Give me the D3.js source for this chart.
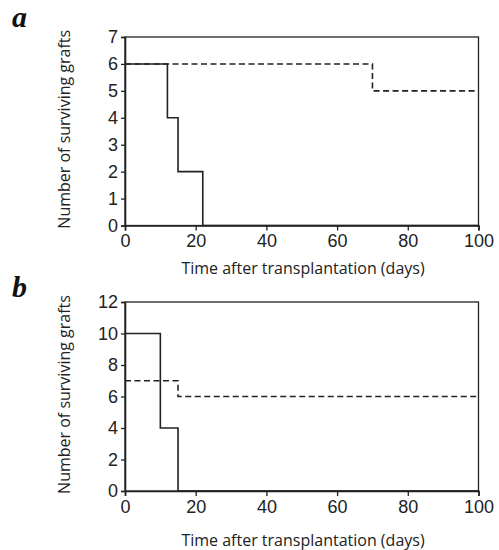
<!DOCTYPE html>
<html><head><meta charset="utf-8">
<script src="https://cdn.jsdelivr.net/npm/d3@7"></script>
<style>body{margin:0;background:#fff}</style>
</head><body>
<script>
// Panel a data (step functions: [day, grafts])
const aSolid = [[0,6],[12,4],[15,2],[22,0],[100,0]];
const aDashed = [[0,6],[70,5],[100,5]];
const aYTicks = [0,1,2,3,4,5,6,7];
// Panel b data
const bSolid = [[0,10],[10,4],[15,0],[100,0]];
const bDashed = [[0,7],[15,6],[100,6]];
const bYTicks = [0,2,4,6,8,10,12];
const xTicks = [0,20,40,60,80,100];
const yTitle = "Number of surviving grafts";
const xTitle = "Time after transplantation (days)";

const svg = d3.select("body").append("svg").attr("width",499).attr("height",550);

function panel(cfg){
  const x = d3.scaleLinear().domain([0,100]).range([125,478.5]);
  const y = d3.scaleLinear().domain([0,cfg.ymax]).range([cfg.bottom,cfg.top]);
  const g = svg.append("g");
  g.append("rect").attr("x",x(0)).attr("y",y(cfg.ymax)).attr("width",x(100)-x(0)).attr("height",y(0)-y(cfg.ymax))
    .attr("fill","none").attr("stroke","#222").attr("stroke-width",1.3);
  const xa = g.append("g").attr("transform",`translate(0,${y(0)})`)
    .call(d3.axisBottom(x).tickValues(xTicks).tickSize(5).tickPadding(4).tickFormat(d3.format("d")));
  const ya = g.append("g").attr("transform",`translate(${x(0)},0)`)
    .call(d3.axisLeft(y).tickValues(cfg.yticks).tickSize(4).tickPadding(3).tickFormat(d3.format("d")));
  [xa,ya].forEach(a=>{
    a.select(".domain").attr("stroke","#222").attr("stroke-width",1.6);
    a.selectAll(".tick line").attr("stroke","#222").attr("stroke-width",1.3);
    a.selectAll("text").attr("font-family","Liberation Sans, Arial, sans-serif").attr("font-size",18).attr("fill","#222");
  });
  const line = d3.line().x(d=>x(d[0])).y(d=>y(d[1])).curve(d3.curveStepAfter);
  g.append("path").datum(cfg.solid).attr("d",line).attr("fill","none").attr("stroke","#222").attr("stroke-width",1.6);
  g.append("path").datum(cfg.dashed).attr("d",line).attr("fill","none").attr("stroke","#222").attr("stroke-width",1.6)
    .attr("stroke-dasharray","6,3.5");
  g.append("text").attr("x",303).attr("y",cfg.xtitleY).attr("text-anchor","middle")
    .attr("font-family","Open Sans, sans-serif").attr("font-size",16).attr("fill","#222").text(xTitle);
  g.append("text").attr("transform",`translate(70,${(cfg.top+cfg.bottom)/2-2}) rotate(-90)`).attr("text-anchor","middle")
    .attr("font-family","Open Sans, sans-serif").attr("font-size",16).attr("fill","#222").text(yTitle);
  g.append("text").attr("x",12).attr("y",cfg.labelY).attr("font-family","Liberation Serif, serif")
    .attr("font-weight","bold").attr("font-style","italic").attr("font-size",30).attr("fill","#111").text(cfg.label);
}

panel({ymax:7, top:37, bottom:225.5, yticks:aYTicks, solid:aSolid, dashed:aDashed, xtitleY:274, labelY:27, label:"a"});
panel({ymax:12, top:302, bottom:491, yticks:bYTicks, solid:bSolid, dashed:bDashed, xtitleY:546, labelY:297, label:"b"});
</script>
</body></html>
